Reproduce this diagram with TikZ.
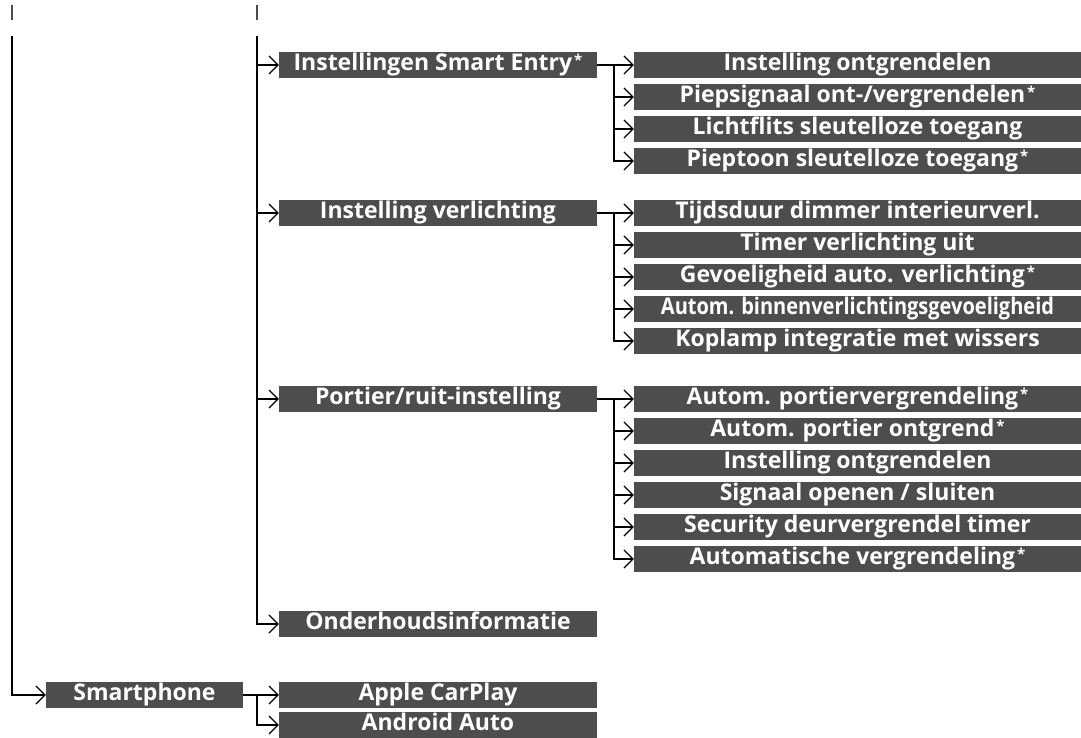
\documentclass[tikz,border=0pt]{standalone}
\usepackage{fontspec}
\setmainfont{Open Sans}
\usepackage{tikz}
\usetikzlibrary{positioning, arrows.meta}
\usepackage{xcolor}
\definecolor{menugrey}{RGB}{77,77,77}
\newcommand{\optmark}{\hspace{2pt}\raisebox{5pt}{\fontsize{15}{15}\selectfont *}}

\begin{document}
\begin{tikzpicture}[x=1pt, y=-1pt, node distance=32pt, on grid,
    menu/.style={fill=menugrey, text=white, font=\bfseries\fontsize{23}{23}\selectfont,
      minimum height=26pt, inner sep=0pt, text height=16.5pt, text depth=5pt},
    top/.style={menu, minimum width=197pt},
    mid/.style={menu, minimum width=318pt},
    leaf/.style={menu, minimum width=447pt},
    link/.style={line width=2pt, -{Straight Barb[length=9pt,width=18pt,line width=1.2pt]}},
    cut/.style={line width=1.5pt, draw=black!70}]
   \useasboundingbox (0,0) rectangle (1081,738);

   % second level
   \node[mid] (entry) at (438,65) {Instellingen Smart Entry\optmark};
   \node[mid] (light) at (438,213) {Instelling verlichting};
   \node[mid] (door) at (438,399) {Portier/ruit-instelling};
   \node[mid] (service) at (438,624) {Onderhoudsinformatie};
   \node[top] (phone) at (144.5,695) {Smartphone};
   \node[mid] (carplay) at (438,695) {Apple CarPlay};
   \node[mid] (android) at (438,725) {Android Auto};

   % third level
   \node[leaf] (entry1) at (857.5,65) {Instelling ontgrendelen};
   \node[leaf] (entry2) [below=of entry1] {Piepsignaal ont-/vergrendelen\optmark};
   \node[leaf] (entry3) [below=of entry2] {Lichtflits sleutelloze toegang};
   \node[leaf] (entry4) [below=of entry3] {Pieptoon sleutelloze toegang\optmark};

   \node[leaf] (light1) at (857.5,213) {Tijdsduur dimmer interieurverl.};
   \node[leaf] (light2) [below=of light1] {Timer verlichting uit};
   \node[leaf] (light3) [below=of light2] {Gevoeligheid auto. verlichting\optmark};
   \node[leaf] (light4) [below=of light3] {\scalebox{0.87}[1]{Autom. binnenverlichtingsgevoeligheid}};
   \node[leaf] (light5) [below=of light4] {Koplamp integratie met wissers};

   \node[leaf] (door1) at (857.5,399) {Autom. portiervergrendeling\optmark};
   \node[leaf] (door2) [below=of door1] {Autom. portier ontgrend\optmark};
   \node[leaf] (door3) [below=of door2] {Instelling ontgrendelen};
   \node[leaf] (door4) [below=of door3] {Signaal openen / sluiten};
   \node[leaf] (door5) [below=of door4] {Security deurvergrendel timer};
   \node[leaf] (door6) [below=of door5] {Automatische vergrendeling\optmark};

   % trunks and forks
   \coordinate (trunk) at (12,36);
   \coordinate (settings) at (257,36);
   \coordinate (trunkcut1) at (12,5);
   \coordinate (trunkcut2) at (12,20);
   \coordinate (settingscut1) at (257,5);
   \coordinate (settingscut2) at (257,20);
   \coordinate (entryfork) at (614,65);
   \coordinate (lightfork) at (614,213);
   \coordinate (doorfork) at (614,399);
   \coordinate (phonefork) at (257,695);

   \draw[cut] (trunkcut1) -- (trunkcut2);
   \draw[cut] (settingscut1) -- (settingscut2);

   \draw[link] (trunk) |- (phone.west);
   \foreach \n in {entry,light,door,service}
     \draw[link] (settings) |- (\n.west);

   \draw[link] (entry) -- (entry1);
   \foreach \n in {2,3,4}
     \draw[link] (entryfork) |- (entry\n.west);
   \draw[link] (light) -- (light1);
   \foreach \n in {2,...,5}
     \draw[link] (lightfork) |- (light\n.west);
   \draw[link] (door) -- (door1);
   \foreach \n in {2,...,6}
     \draw[link] (doorfork) |- (door\n.west);
   \draw[link] (phone) -- (carplay);
   \draw[link] (phonefork) |- (android.west);
\end{tikzpicture}
\end{document}
